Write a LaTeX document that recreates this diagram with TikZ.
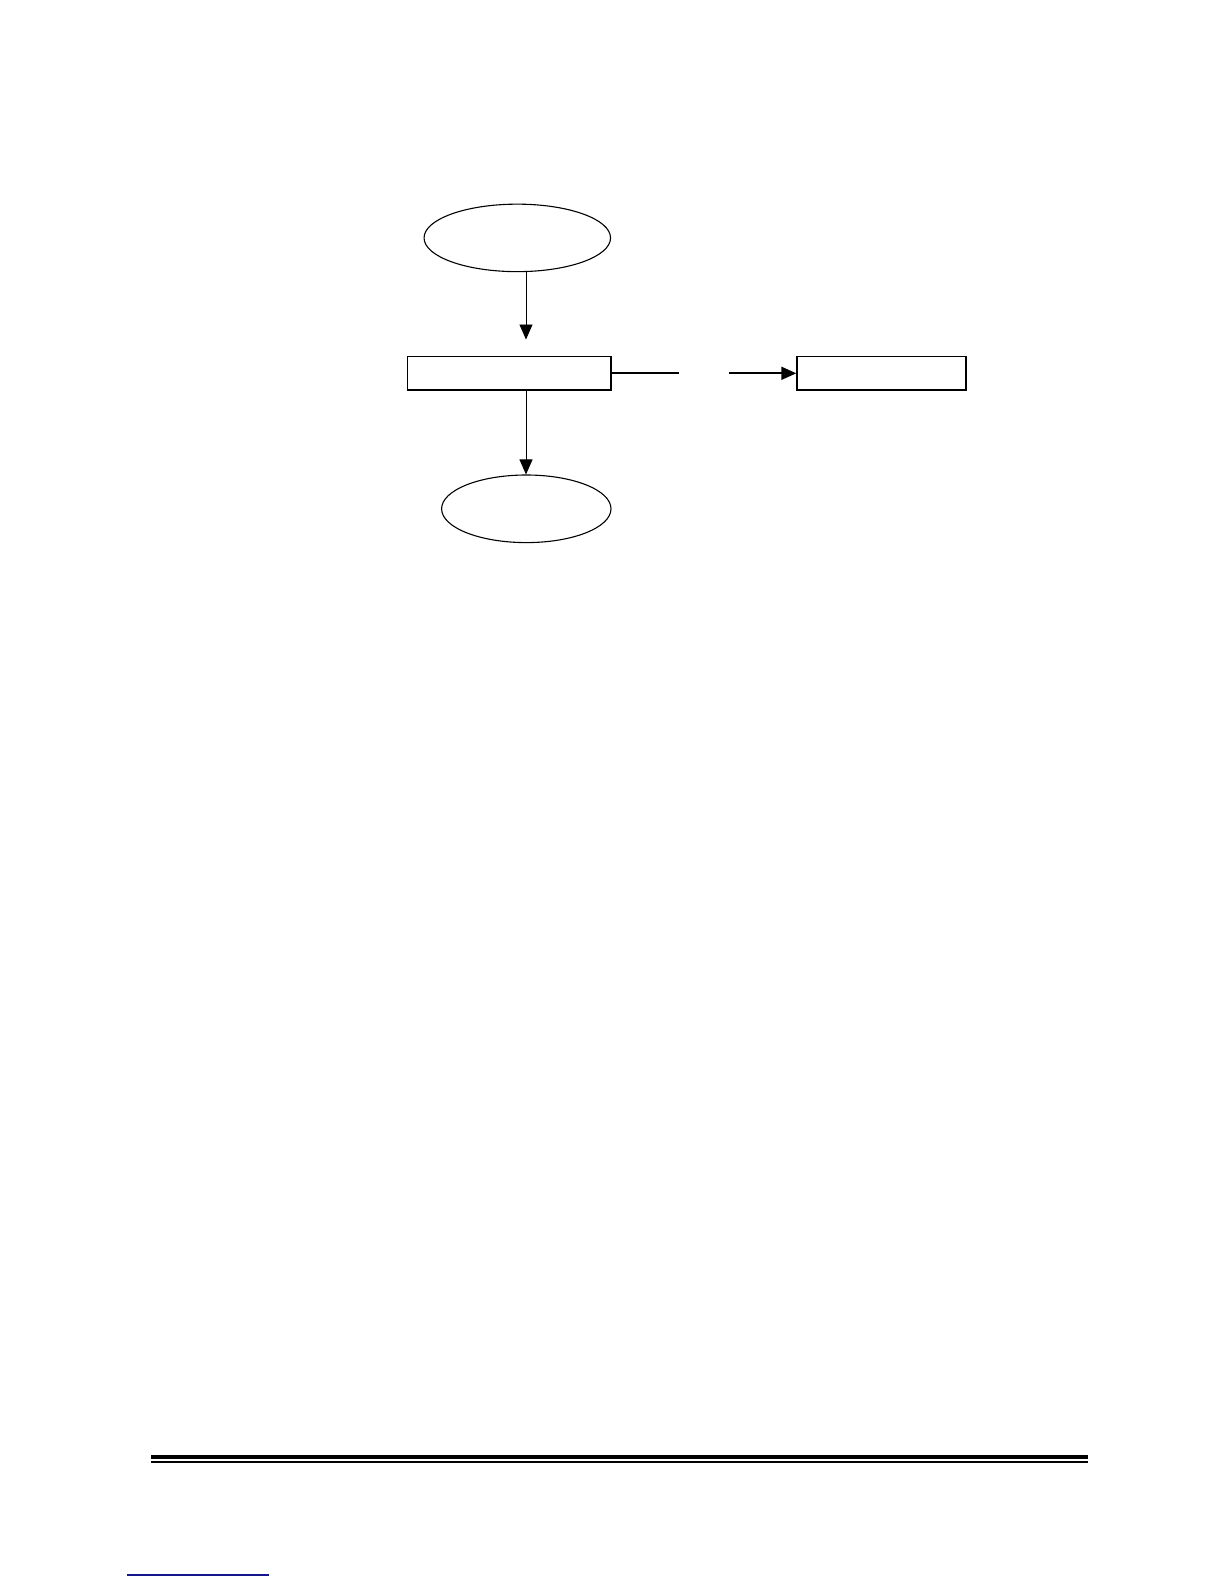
\documentclass[tikz,border=0pt]{standalone}
\usetikzlibrary{shapes.geometric,arrows.meta}
\begin{document}
\begin{tikzpicture}[x=1pt,y=-1pt,
  conn/.style={line width=0.9pt,-{Triangle[length=15pt,width=13pt]}},
  plain/.style={line width=1.8pt},
  oval/.style={ellipse,draw,line width=1.1pt,inner sep=0pt},
  boxnode/.style={rectangle,draw,line width=1.4pt,inner sep=0pt}]
\useasboundingbox (0,0) rectangle (1224,1584);
\node[oval,minimum width=186.5pt,minimum height=67.5pt] (start) at (517.3,237.9) {};
\node[boxnode,minimum width=203.8pt,minimum height=33.3pt] (proc) at (509.1,373.3) {};
\node[boxnode,minimum width=169pt,minimum height=33.3pt] (side) at (881.5,373.3) {};
\node[oval,minimum width=169.4pt,minimum height=67.6pt] (stop) at (526.3,508.8) {};
\coordinate (tipA) at (526,339.5);
\coordinate (srcB) at (526,390);
\coordinate (gapA) at (679,373.3);
\coordinate (gapB) at (729,373.3);
\draw[conn] (start.south -| tipA) -- (tipA);
\draw[conn] (srcB) -- (stop.north -| srcB);
\draw[plain] (proc.east) -- (gapA);
\draw[conn,line width=1.8pt] (gapB) -- (side.west);
\draw[line width=4pt] (151,1457.4) -- (1087.7,1457.4);
\draw[line width=1.4pt] (151,1462) -- (1087.7,1462);
\draw[line width=1.1pt,color={rgb,255:red,20;green,20;blue,140}] (127,1575) -- (269,1575);
\end{tikzpicture}
\end{document}
